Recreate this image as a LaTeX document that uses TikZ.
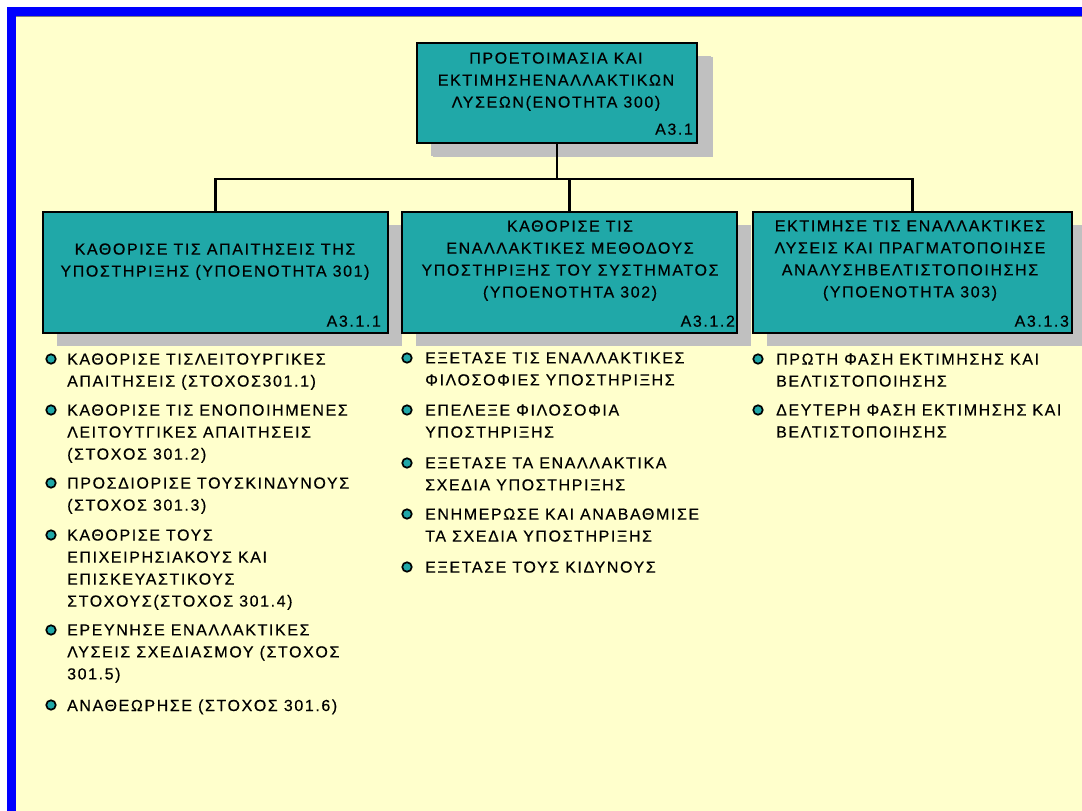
\documentclass[tikz,border=0pt]{standalone}
\usepackage{fontspec}
\setmainfont{Liberation Sans}[LetterSpace=10, FakeBold=0.4]
\usetikzlibrary{shadows}
\definecolor{pagebg}{HTML}{FFFFCC}
\definecolor{frameblue}{HTML}{0000FF}
\definecolor{tealbox}{HTML}{20A8A8}
\definecolor{shadowgray}{HTML}{C0C0C0}
\begin{document}
\begin{tikzpicture}[x=1pt,y=-1pt,
  box/.style={draw=black, line width=2.2pt, fill=tealbox, inner sep=0pt,
    drop shadow={shadow xshift=14pt, shadow yshift=-13pt, opacity=1, fill=shadowgray, draw=none}},
  boxtext/.style={anchor=north, inner sep=0pt, align=center, font=\fontsize{16}{22}\selectfont},
  code/.style={anchor=base east, inner sep=0pt, font=\fontsize{16}{22}\selectfont},
  entry/.style={anchor=north west, inner sep=0pt, align=left, font=\fontsize{16}{22}\selectfont},
  bul/.style={circle, draw=black, line width=1.7pt, fill=tealbox, inner sep=0pt, minimum size=9.5pt},
  conn/.style={draw=black, line width=2.2pt}
]
% page frame
\useasboundingbox (0,0) rectangle (1082,811);
\fill[white] (0,0) rectangle (1082,811);
\fill[frameblue] (7,7) rectangle (1082,811);
\fill[pagebg] (16,16) rectangle (1082,811);
\draw[gray, line width=1pt] (16,16.5) -- (1082,16.5);

% boxes
\node[box, minimum width=280pt, minimum height=100pt,
  drop shadow={shadow xshift=16pt, shadow yshift=-14pt, opacity=1, fill=shadowgray, draw=none}]
  (top) at (557,93) {};
\node[box, minimum width=345pt, minimum height=121pt] (b1) at (215.5,272.5) {};
\node[box, minimum width=335pt, minimum height=121pt] (b2) at (569.5,272.5) {};
\node[box, minimum width=319pt, minimum height=121pt] (b3) at (912.5,272.5) {};

% connectors
\draw[conn] (top.south) -- ++(0,35) coordinate (hub);
\draw[conn] (b1.north) |- (hub) -| (b3.north);
\draw[conn] (b2.north) -- (b2.north |- hub);

% box texts
\node[boxtext] (topt) at (556,52.2) {ΠΡΟΕΤΟΙΜΑΣΙΑ ΚΑΙ\\ΕΚΤΙΜΗΣΗΕΝΑΛΛΑΚΤΙΚΩΝ\\ΛΥΣΕΩΝ(ΕΝΟΤΗΤΑ 300)};
\node[code] (topc) at ([shift={(-5,-9.4)}]top.south east) {Α3.1};
\node[boxtext] (b1t) at (215,243.2) {ΚΑΘΟΡΙΣΕ ΤΙΣ ΑΠΑΙΤΗΣΕΙΣ ΤΗΣ\\ΥΠΟΣΤΗΡΙΞΗΣ (ΥΠΟΕΝΟΤΗΤΑ 301)};
\node[code] (b1c) at ([shift={(-8,-7.4)}]b1.south east) {Α3.1.1};
\node[boxtext] (b2t) at (570,220.2) {ΚΑΘΟΡΙΣΕ ΤΙΣ\\ΕΝΑΛΛΑΚΤΙΚΕΣ ΜΕΘΟΔΟΥΣ\\ΥΠΟΣΤΗΡΙΞΗΣ ΤΟΥ ΣΥΣΤΗΜΑΤΟΣ\\(ΥΠΟΕΝΟΤΗΤΑ 302)};
\node[code] (b2c) at ([shift={(-3,-7.4)}]b2.south east) {Α3.1.2};
\node[boxtext] (b3t) at (910,220.2) {ΕΚΤΙΜΗΣΕ ΤΙΣ ΕΝΑΛΛΑΚΤΙΚΕΣ\\ΛΥΣΕΙΣ ΚΑΙ ΠΡΑΓΜΑΤΟΠΟΙΗΣΕ\\ΑΝΑΛΥΣΗΒΕΛΤΙΣΤΟΠΟΙΗΣΗΣ\\(ΥΠΟΕΝΟΤΗΤΑ 303)};
\node[code] (b3c) at ([shift={(-4,-7.4)}]b3.south east) {Α3.1.3};

% list under 301
\foreach \n/\y/\t in {
  1/359/{ΚΑΘΟΡΙΣΕ ΤΙΣΛΕΙΤΟΥΡΓΙΚΕΣ\\ΑΠΑΙΤΗΣΕΙΣ (ΣΤΟΧΟΣ301.1)},
  2/410/{ΚΑΘΟΡΙΣΕ ΤΙΣ ΕΝΟΠΟΙΗΜΕΝΕΣ\\ΛΕΙΤΟΥΤΓΙΚΕΣ ΑΠΑΙΤΗΣΕΙΣ\\(ΣΤΟΧΟΣ 301.2)},
  3/483/{ΠΡΟΣΔΙΟΡΙΣΕ ΤΟΥΣΚΙΝΔΥΝΟΥΣ\\(ΣΤΟΧΟΣ 301.3)},
  4/535/{ΚΑΘΟΡΙΣΕ ΤΟΥΣ\\ΕΠΙΧΕΙΡΗΣΙΑΚΟΥΣ ΚΑΙ\\ΕΠΙΣΚΕΥΑΣΤΙΚΟΥΣ\\ΣΤΟΧΟΥΣ(ΣΤΟΧΟΣ 301.4)},
  5/630/{ΕΡΕΥΝΗΣΕ ΕΝΑΛΛΑΚΤΙΚΕΣ\\ΛΥΣΕΙΣ ΣΧΕΔΙΑΣΜΟΥ (ΣΤΟΧΟΣ\\301.5)},
  6/705/{ΑΝΑΘΕΩΡΗΣΕ (ΣΤΟΧΟΣ 301.6)}} {
  \node[bul] (pa\n) at (51,\y) {};
  \node[entry] (ta\n) at (67,\y-5.8) {\t};
}

% list under 302
\foreach \n/\y/\t in {
  1/358/{ΕΞΕΤΑΣΕ ΤΙΣ ΕΝΑΛΛΑΚΤΙΚΕΣ\\ΦΙΛΟΣΟΦΙΕΣ ΥΠΟΣΤΗΡΙΞΗΣ},
  2/410/{ΕΠΕΛΕΞΕ ΦΙΛΟΣΟΦΙΑ\\ΥΠΟΣΤΗΡΙΞΗΣ},
  3/463/{ΕΞΕΤΑΣΕ ΤΑ ΕΝΑΛΛΑΚΤΙΚΑ\\ΣΧΕΔΙΑ ΥΠΟΣΤΗΡΙΞΗΣ},
  4/514/{ΕΝΗΜΕΡΩΣΕ ΚΑΙ ΑΝΑΒΑΘΜΙΣΕ\\ΤΑ ΣΧΕΔΙΑ ΥΠΟΣΤΗΡΙΞΗΣ},
  5/567/{ΕΞΕΤΑΣΕ ΤΟΥΣ ΚΙΔΥΝΟΥΣ}} {
  \node[bul] (pb\n) at (407,\y) {};
  \node[entry] (tb\n) at (425,\y-5.8) {\t};
}

% list under 303
\foreach \n/\y/\t in {
  1/359/{ΠΡΩΤΗ ΦΑΣΗ ΕΚΤΙΜΗΣΗΣ ΚΑΙ\\ΒΕΛΤΙΣΤΟΠΟΙΗΣΗΣ},
  2/410/{ΔΕΥΤΕΡΗ ΦΑΣΗ ΕΚΤΙΜΗΣΗΣ ΚΑΙ\\ΒΕΛΤΙΣΤΟΠΟΙΗΣΗΣ}} {
  \node[bul] (pc\n) at (758,\y) {};
  \node[entry] (tc\n) at (776,\y-5.8) {\t};
}
\end{tikzpicture}
\end{document}
